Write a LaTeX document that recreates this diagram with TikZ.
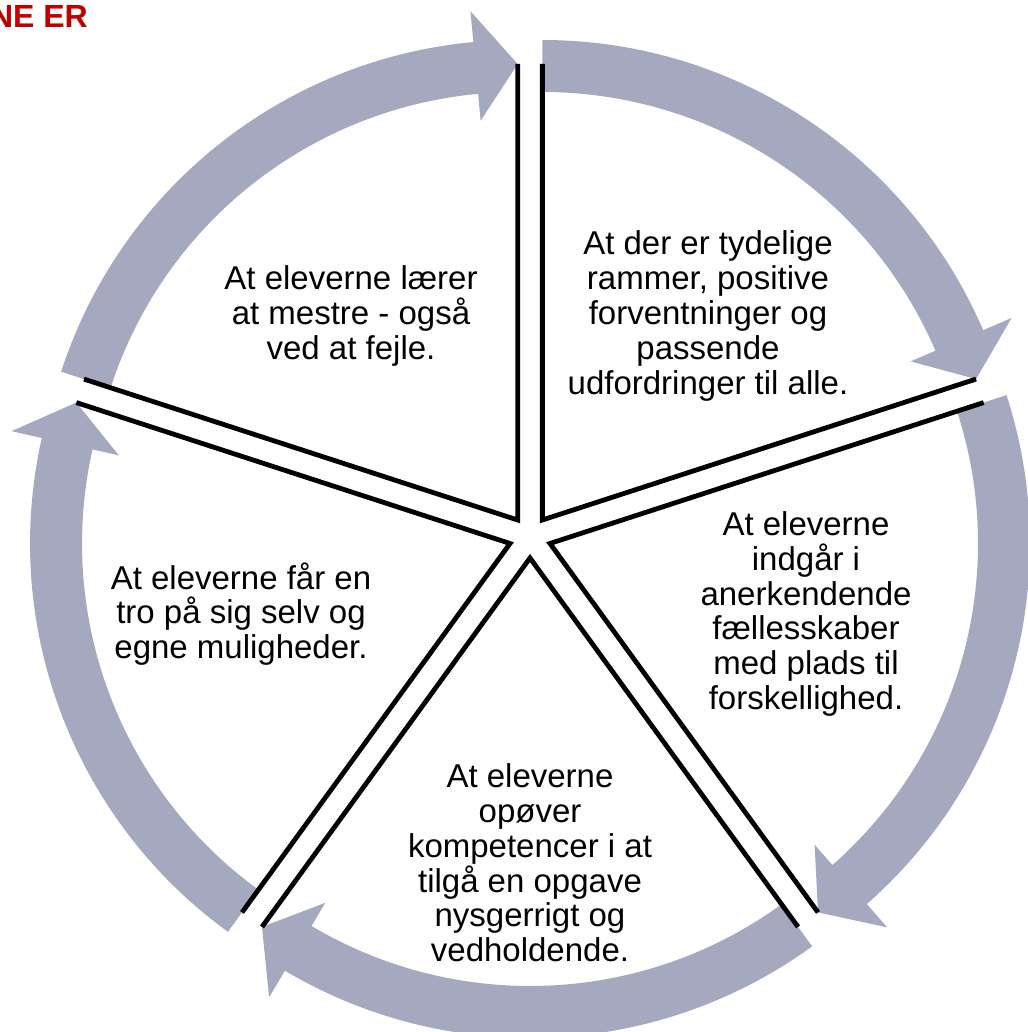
\documentclass[tikz,border=0pt]{standalone}
\usepackage{fontspec}
\setmainfont{Liberation Sans}
\usetikzlibrary{calc}

\definecolor{bandgray}{RGB}{165,169,192}
\definecolor{titlered}{RGB}{192,0,0}

\tikzset{
	band/.style={fill=bandgray},
	edge/.style={draw=black, line width=4.8pt},
	goal/.style={align=center, font=\fontsize{33}{34.8}\selectfont},
	heading/.style={text=titlered, font=\fontsize{32}{36}\selectfont\bfseries, inner sep=0pt, anchor=base east}
}

\begin{document}
\begin{tikzpicture}[x=1pt, y=1pt]
	\useasboundingbox (0,0) rectangle (1027,1032);
	\coordinate (centre) at (530,495);
	% five exploded sectors, each with its arrow
	\foreach \a/\n in {90/1, 18/2, -54/3, -126/4, -198/5} {
		\pgfmathsetmacro\b{\a-72}
		\pgfmathsetmacro\m{\a-36}
		\pgfmathsetmacro\h{\a-66.7}
		\coordinate (apex-\n) at ($(centre)+(\m:21pt)$);
		\begin{scope}[shift={(apex-\n)}]
			\fill [band] (\a:480pt) arc [start angle=\a, end angle=\h, radius=480pt]
				-- (\h:511pt) -- (\b:456pt) -- (\h:401pt)
				-- (\h:428pt) arc [start angle=\h, end angle=\a, radius=428pt] -- cycle;
			\draw [edge] (\a:456pt) -- (0,0) -- (\b:456pt);
		\end{scope}
	}
	\node [goal] (mastery) at (351,716) {At eleverne lærer\\at mestre - også\\ved at fejle.};
	\node [goal] (frames) at (708,716) {At der er tydelige\\rammer, positive\\forventninger og\\passende\\udfordringer til alle.};
	\node [goal] (community) at (806,418) {At eleverne\\indgår i\\anerkendende\\fællesskaber\\med plads til\\forskellighed.};
	\node [goal] (curiosity) at (530,169) {At eleverne\\opøver\\kompetencer i at\\tilgå en opgave\\nysgerrigt og\\vedholdende.};
	\node [goal] (belief) at (241,418) {At eleverne får en\\tro på sig selv og\\egne muligheder.};
	\node [heading] (title) at (88,1004) {NE ER};
\end{tikzpicture}
\end{document}
